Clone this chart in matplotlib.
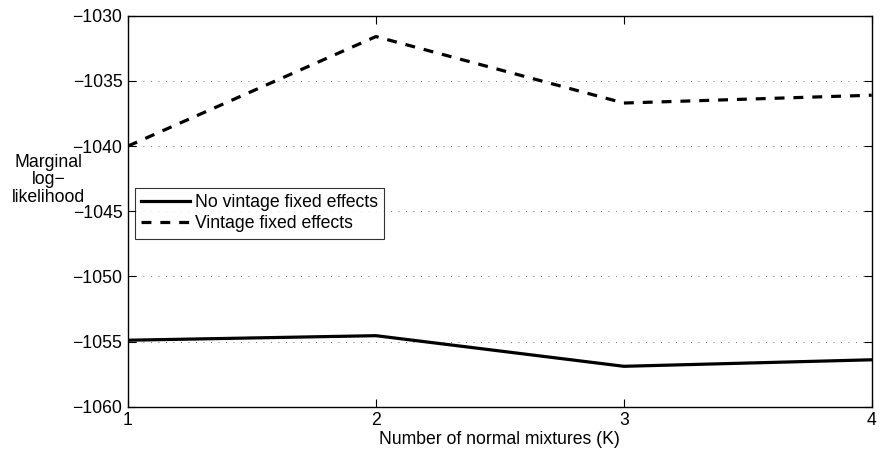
import matplotlib.pyplot as plt

plt.rcParams['font.family'] = ['Liberation Sans', 'DejaVu Sans']

# Marginal log-likelihood by number of mixture components
k_values = [1, 2, 3, 4]
no_vintage_fe = [-1054.9, -1054.55, -1056.9, -1056.4]
vintage_fe = [-1040.0, -1031.6, -1036.7, -1036.1]

y_ticks = [-1060, -1055, -1050, -1045, -1040, -1035, -1030]

fig = plt.figure(figsize=(8.8, 4.58), dpi=100)
ax = fig.add_axes([0.1455, 0.112, 0.8451, 0.8537])

ax.plot(k_values, no_vintage_fe, color='black', linewidth=2.3, linestyle='-',
        label='No vintage fixed effects')
ax.plot(k_values, vintage_fe, color='black', linewidth=2.3, linestyle=(0, (3.1, 2.8)),
        label='Vintage fixed effects')

ax.set_xlim(1, 4)
ax.set_ylim(-1060, -1030)
ax.set_xticks(k_values)
ax.set_yticks(y_ticks)
ax.set_yticklabels([str(t).replace('-', '\u2212') for t in y_ticks])

ax.yaxis.grid(True, linestyle=(0, (1, 8)), color='#444444', linewidth=0.6)
ax.tick_params(direction='in', top=True, right=True, length=5.5, width=0.8,
               labelsize=12.7, colors='black', pad=4)
for spine in ax.spines.values():
    spine.set_linewidth(1.0)

ax.set_xlabel('Number of normal mixtures (K)', fontsize=12.7, labelpad=1)
ax.set_ylabel('Marginal\nlog\u2212\nlikelihood', fontsize=12.7, rotation=0,
              ha='center', va='center', linespacing=1.05)
ax.yaxis.set_label_coords(-0.107, 0.58)

leg = ax.legend(loc='upper left', bbox_to_anchor=(0.0094, 0.56), fontsize=12.7,
                frameon=True, fancybox=False, edgecolor='black', borderpad=0.35,
                handlelength=2.75, handletextpad=0.3, labelspacing=0.25,
                borderaxespad=0)
leg.get_frame().set_linewidth(0.8)

fig.savefig('out.png', dpi=100)
